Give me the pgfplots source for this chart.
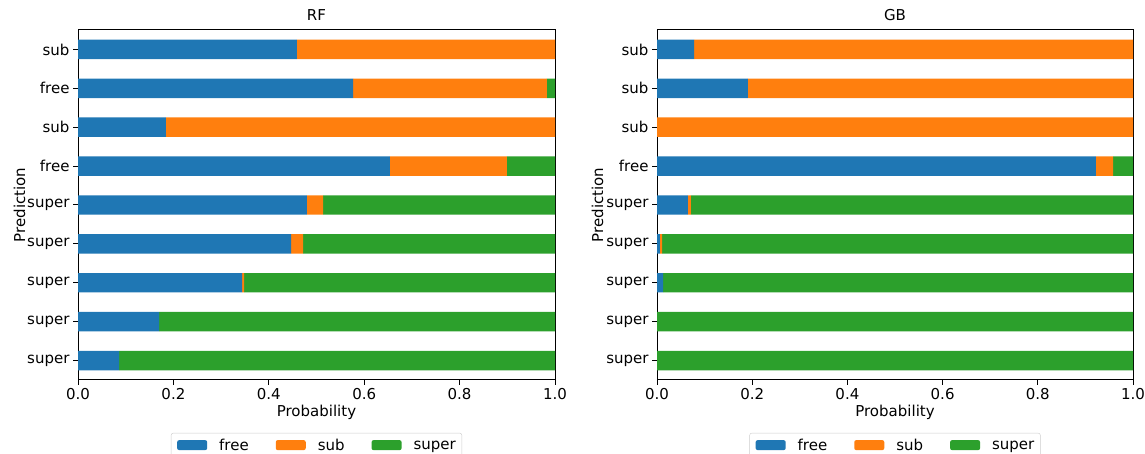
\documentclass[border=0pt]{standalone}
\usepackage{fontspec}
\setmainfont{DejaVu Sans}
\usepackage{pgfplots}
\pgfplotsset{compat=1.18}
\definecolor{tabblue}{HTML}{1F77B4}
\definecolor{taborange}{HTML}{FF7F0E}
\definecolor{tabgreen}{HTML}{2CA02C}
\pgfplotsset{
  common/.style={
    font=\fontsize{15bp}{18bp}\selectfont,
    scale only axis, width=477bp, height=350bp, anchor=south west,
    xbar stacked, bar width=0.5,
    xmin=0, xmax=1, ymin=-0.5, ymax=8.5,
    ytick={0,1,2,3,4,5,6,7,8},
    xtick={0,0.2,0.4,0.6,0.8,1.0},
    xticklabel style={/pgf/number format/.cd, fixed, fixed zerofill, precision=1},
    /pgf/number format/assume math mode=true,
    tick align=outside, xtick pos=bottom, ytick pos=left,
    major tick length=5bp,
    every tick/.style={black, line width=1bp},
    axis line style={black, line width=1bp},
    title style={at={(axis description cs:0.5,1)}, anchor=base, yshift=4bp, inner sep=0pt},
    xlabel style={at={(axis description cs:0.5,0)}, anchor=base, yshift=-37bp, inner sep=0pt},
    xlabel={Probability}, ylabel={Prediction},
    legend columns=3,
    legend style={at={(axis description cs:0.5,-0.1514)}, anchor=north,
      draw=black!20, rounded corners=2bp, inner xsep=6bp, inner ysep=6bp,
      font=\fontsize{15bp}{18bp}\selectfont,
      nodes={inner sep=0pt},
      /tikz/every odd column/.append style={column sep=12bp},
      /tikz/every even column/.append style={column sep=27bp}},
    cells={anchor=west},
  },
  patch/.style={fill=#1, draw=none, legend image code/.code={\fill[#1] (0bp,-4.5bp) rectangle (30bp,5.5bp);}},
}
\begin{document}
\begin{tikzpicture}[x=1bp,y=1bp]
\useasboundingbox (0,0) rectangle (1145,454);
\clip (0,0) rectangle (1145,454);
\begin{axis}[common, at={(78bp,74bp)}, title={RF},
  ylabel style={at={(axis description cs:-0.111,0.5)}, anchor=base, inner sep=0pt},
  yticklabels={super,super,super,super,super,free,sub,free,sub}]
\addplot[patch=tabblue] coordinates {(0.086,0) (0.170,1) (0.344,2) (0.447,3) (0.480,4) (0.654,5) (0.184,6) (0.577,7) (0.459,8)};
\addplot[patch=taborange] coordinates {(0,0) (0,1) (0.004,2) (0.025,3) (0.034,4) (0.245,5) (0.816,6) (0.406,7) (0.541,8)};
\addplot[patch=tabgreen] coordinates {(0.914,0) (0.830,1) (0.652,2) (0.528,3) (0.486,4) (0.101,5) (0,6) (0.017,7) (0,8)};
\legend{free,sub,super}
\end{axis}
\begin{axis}[common, at={(657bp,74bp)}, width=476bp, title={GB},
  ylabel style={at={(axis description cs:-0.1134,0.5)}, anchor=base, inner sep=0pt},
  yticklabels={super,super,super,super,super,free,sub,sub,sub}]
\addplot[patch=tabblue] coordinates {(0,0) (0,1) (0.013,2) (0.006,3) (0.065,4) (0.922,5) (0,6) (0.191,7) (0.078,8)};
\addplot[patch=taborange] coordinates {(0,0) (0,1) (0,2) (0.005,3) (0.006,4) (0.036,5) (1.0,6) (0.809,7) (0.922,8)};
\addplot[patch=tabgreen] coordinates {(1,0) (1,1) (0.987,2) (0.989,3) (0.929,4) (0.042,5) (0,6) (0,7) (0,8)};
\legend{free,sub,super}
\end{axis}
\end{tikzpicture}
\end{document}
